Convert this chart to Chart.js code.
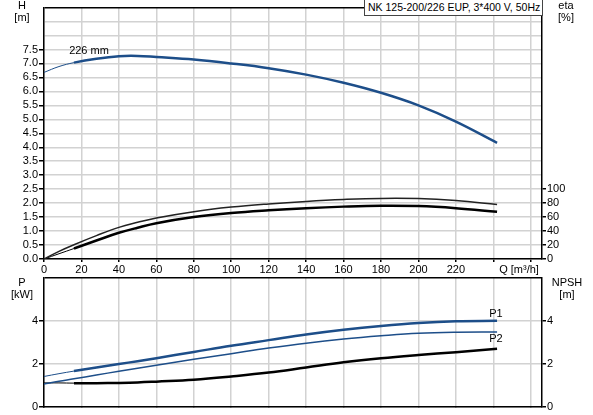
<!DOCTYPE html>
<html>
<head>
<meta charset="utf-8">
<script src="https://cdn.jsdelivr.net/npm/chart.js@4.4.0/dist/chart.umd.min.js"></script>
<style>
  body { margin: 0; background: #fff; }
  #wrap { position: relative; width: 593px; height: 415px; font-family: "Liberation Sans", Arial, sans-serif; font-size: 11px; color: #000; }
  #wrap canvas { position: absolute; left: 0; }
  .lbl { position: absolute; white-space: nowrap; line-height: 12px; transform: translate(-50%, -50%); }
  #titleBox { position: absolute; left: 364px; top: -1px; width: 174px; height: 15px; line-height: 15px; padding-left: 3px;
              font-size: 10.5px; background: #fff; border: 1px solid #444; white-space: nowrap; overflow: hidden; }
</style>
</head>
<body>
<div id="wrap">
  <canvas id="topChart" width="593" height="278" style="top:0"></canvas>
  <canvas id="botChart" width="593" height="145" style="top:270px"></canvas>
  <div id="titleBox">NK 125-200/226 EUP, 3*400 V, 50Hz</div>
  <div class="lbl" style="left:22px;top:5px">H</div>
  <div class="lbl" style="left:22px;top:17px">[m]</div>
  <div class="lbl" style="left:566px;top:5px">eta</div>
  <div class="lbl" style="left:566px;top:17px">[%]</div>
  <div class="lbl" style="left:519px;top:269px">Q [m³/h]</div>
  <div class="lbl" style="left:89px;top:50px">226 mm</div>
  <div class="lbl" style="left:22px;top:282px">P</div>
  <div class="lbl" style="left:22px;top:294px">[kW]</div>
  <div class="lbl" style="left:567px;top:282px">NPSH</div>
  <div class="lbl" style="left:567px;top:294px">[m]</div>
  <div class="lbl" style="left:496px;top:313px">P1</div>
  <div class="lbl" style="left:496px;top:338px">P2</div>
</div>
<script>
// flow points (m3/h), shared by every curve
const flow = [0, 8, 16, 28, 40, 50, 60, 80, 100, 120, 140, 160, 180, 200, 220, 242];

// top chart: head and efficiency
const head     = [6.68, 6.89, 7.03, 7.17, 7.26, 7.27, 7.23, 7.14, 7.00, 6.83, 6.60, 6.31, 5.95, 5.50, 4.92, 4.16];
const etaUpper = [0, 11, 20.5, 33.5, 45.3, 52.5, 58.8, 67.8, 74.3, 78.9, 82.5, 85.2, 86.8, 86.5, 83.6, 78];
const etaLower = [0, 7.5, 15, 26.5, 37.5, 44.8, 51.2, 60.0, 65.9, 69.8, 72.8, 75.0, 76.3, 75.8, 72.8, 67.6];

// bottom chart: power and NPSH
const powerP1 = [1.42, 1.55, 1.67, 1.84, 2.00, 2.13, 2.27, 2.56, 2.85, 3.11, 3.37, 3.59, 3.77, 3.91, 3.99, 4.01];
const powerP2 = [1.07, 1.20, 1.31, 1.49, 1.66, 1.80, 1.94, 2.22, 2.48, 2.74, 2.97, 3.16, 3.31, 3.43, 3.48, 3.49];
const npsh    = [1.12, 1.12, 1.11, 1.11, 1.12, 1.14, 1.18, 1.27, 1.42, 1.60, 1.84, 2.08, 2.27, 2.42, 2.55, 2.71];

// tick labels
const qTickLabels = [0, 20, 40, 60, 80, 100, 120, 140, 160, 180, 200, 220];
const headMaxLabel = 7.5;
const etaMaxLabel = 100;
const powerMaxLabel = 4;

const BLUE = '#1d4e89';
const GRID = '#d2d2d2';
const FONT = { family: '"Liberation Sans", Arial, sans-serif', size: 11 };
const THIN_UNTIL = 16; // curves start thin then become thick

function pts(values) {
  return values.map((v, i) => ({ x: flow[i], y: v }));
}

function thickAfter(w) {
  return { borderWidth: ctx => ctx.p0.parsed.x < THIN_UNTIL ? 1 : w };
}

const xScale = (height, showLabels) => ({
  type: 'linear', min: 0, max: 266,
  border: { color: '#000', width: 1.5 },
  grid: { color: GRID, lineWidth: 1.5, tickLength: showLabels ? 3 : 0, tickColor: '#000' },
  ticks: {
    display: showLabels, stepSize: 20, includeBounds: false, maxRotation: 0, autoSkip: false,
    padding: 1, color: '#000', font: FONT,
    callback: v => qTickLabels.includes(v) ? String(v) : ''
  },
  afterFit: s => { s.height = height; }
});

function yScale(pos, max, step, maxLabel, width, fmt, onChart) {
  return {
    position: pos, min: 0, max: max,
    border: { color: '#000', width: 1.5 },
    grid: {
      drawOnChartArea: onChart, lineWidth: 1.5, tickLength: pos === 'left' ? 5 : 4,
      color: c => c.tick.value === max ? '#000' : GRID,
      tickColor: c => c.tick.value <= maxLabel ? '#000' : 'rgba(0,0,0,0)'
    },
    ticks: { stepSize: step, autoSkip: false, padding: 1, color: '#000', font: FONT,
      callback: v => v <= maxLabel ? fmt(v) : '' },
    afterFit: s => { s.width = width; }
  };
}

Chart.defaults.font.family = FONT.family;

const lineDefaults = { point: { radius: 0 }, line: { tension: 0.4, borderWidth: 2.5 } };

new Chart(document.getElementById('topChart'), {
  type: 'line',
  data: {
    datasets: [
      { data: pts(head), yAxisID: 'y', borderColor: BLUE, segment: thickAfter(2.5) },
      { data: pts(etaUpper), yAxisID: 'y2', borderColor: '#222', borderWidth: 1.5 },
      { data: pts(etaLower), yAxisID: 'y2', borderColor: '#000', segment: thickAfter(2.5) }
    ]
  },
  options: {
    responsive: false, animation: false,
    layout: { padding: 0 },
    elements: lineDefaults,
    plugins: { legend: { display: false }, tooltip: { enabled: false } },
    scales: {
      x: xScale(19, true),
      y: yScale('left', 9, 0.5, headMaxLabel, 44, v => v.toFixed(1), true),
      y2: yScale('right', 360, 20, etaMaxLabel, 51, v => String(v), false)
    }
  }
});

new Chart(document.getElementById('botChart'), {
  type: 'line',
  data: {
    datasets: [
      { data: pts(powerP1), yAxisID: 'y', borderColor: BLUE, segment: thickAfter(2.5) },
      { data: pts(powerP2), yAxisID: 'y', borderColor: BLUE, borderWidth: 1.5 },
      { data: pts(npsh), yAxisID: 'y2', borderColor: '#000', segment: thickAfter(2.5) }
    ]
  },
  options: {
    responsive: false, animation: false,
    layout: { padding: { top: 8 } },
    elements: lineDefaults,
    plugins: { legend: { display: false }, tooltip: { enabled: false } },
    scales: {
      x: xScale(8, false),
      y: yScale('left', 6, 2, powerMaxLabel, 44, v => String(v), true),
      y2: yScale('right', 6, 2, powerMaxLabel, 51, v => String(v), false)
    }
  }
});
</script>
</body>
</html>
